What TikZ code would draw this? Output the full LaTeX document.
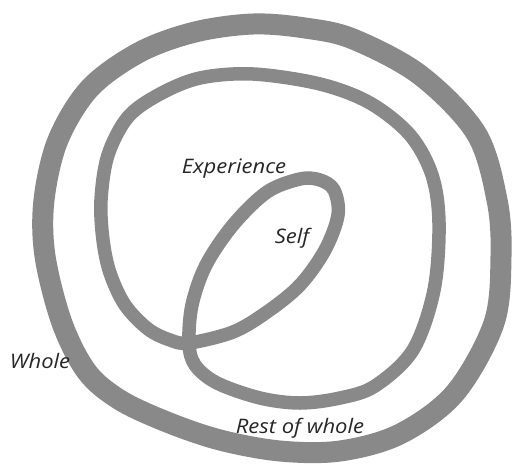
\documentclass[tikz,border=0pt]{standalone}
\usepackage{fontspec}
\setmainfont{Open Sans}
\newfontfamily\handfont{Open Sans}[FakeStretch=1.1]
\definecolor{ringgray}{HTML}{898989}
\begin{document}
\begin{tikzpicture}[x=1pt,y=-1pt,
  ring/.style={draw=ringgray, line width=#1, line join=round},
  lbl/.style={font=\handfont\fontsize{20}{22}\selectfont\itshape, anchor=base, inner sep=0pt, text=black!85}]
\useasboundingbox (0,0) rectangle (513,463);
% outer ring (Whole)
\draw[ring=21] plot[smooth cycle, tension=0.55] coordinates {
  (253,24) (305,28) (353,39) (420,75) (476,133) (497,200) (501,256) (494,323)
  (455,393) (400,434) (340,451) (280,451) (220,440) (167,422) (120,400) (87,372)
  (62,323) (45,256) (44,200) (58,140) (90,88) (140,52) (195,32)};
% middle loop with self ellipse (Experience / Self)
\draw[ring=13.5] plot[smooth cycle, tension=0.55] coordinates {
  (189,343) (195,365) (217,383) (260,398) (300,403) (340,398) (375,386)
  (413,350) (434,290) (439,223) (432,175) (410,135) (370,103) (320,84)
  (253,74) (200,78) (160,94) (128,117) (108,155) (101,200) (103,240)
  (110,273) (125,305) (148,329) (170,340) (189,343)
  (233,332) (267,312) (300,285) (325,250) (338,215) (334,190) (320,180)
  (300,179) (267,192) (233,225) (206,265) (192,305)};
\node[lbl] (exp) at (234,173) {Experience};
\node[lbl] (self) at (292,243) {Self};
\node[lbl] (whole) at (40,368) {Whole};
\node[lbl] (rest) at (300,433) {Rest of whole};
\end{tikzpicture}
\end{document}
